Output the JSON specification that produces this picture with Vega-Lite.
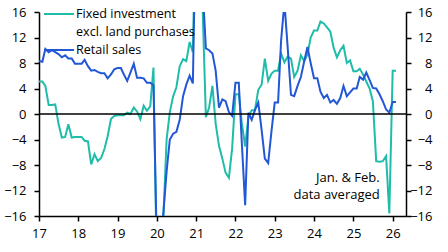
{
  "$schema": "https://vega.github.io/schema/vega-lite/v6.json",
  "width": 367,
  "height": 204,
  "autosize": {"type": "none"},
  "padding": {"left": 39, "top": 12, "right": 42, "bottom": 36},
  "background": "white",
  "config": {
    "font": "Open Sans",
    "view": {"stroke": null},
    "style": {"guide-label": {"lineHeight": 17.5}},
    "axis": {
      "labelFont": "Open Sans",
      "labelFontSize": 13,
      "labelColor": "black",
      "domainColor": "black",
      "domainWidth": 1.5,
      "tickColor": "black",
      "tickWidth": 1.5,
      "tickSize": 5,
      "grid": false,
      "title": null
    }
  },
  "layer": [
    {
      "data": {
        "values": [
          {"date": "2017-01", "Fixed investment": 5.1, "Retail sales": 8.3},
          {"date": "2017-02", "Fixed investment": 5.1, "Retail sales": 8.2},
          {"date": "2017-03", "Fixed investment": 4.4, "Retail sales": 10.2},
          {"date": "2017-04", "Fixed investment": 1.4, "Retail sales": 9.7},
          {"date": "2017-05", "Fixed investment": 1.4, "Retail sales": 10.0},
          {"date": "2017-06", "Fixed investment": 1.5, "Retail sales": 9.7},
          {"date": "2017-07", "Fixed investment": -1.5, "Retail sales": 9.4},
          {"date": "2017-08", "Fixed investment": -3.7, "Retail sales": 8.9},
          {"date": "2017-09", "Fixed investment": -3.6, "Retail sales": 9.2},
          {"date": "2017-10", "Fixed investment": -1.6, "Retail sales": 8.7},
          {"date": "2017-11", "Fixed investment": -3.7, "Retail sales": 8.7},
          {"date": "2017-12", "Fixed investment": -3.6, "Retail sales": 7.9},
          {"date": "2018-01", "Fixed investment": -3.6, "Retail sales": 7.9},
          {"date": "2018-02", "Fixed investment": -3.6, "Retail sales": 7.9},
          {"date": "2018-03", "Fixed investment": -4.2, "Retail sales": 8.5},
          {"date": "2018-04", "Fixed investment": -4.3, "Retail sales": 7.5},
          {"date": "2018-05", "Fixed investment": -7.9, "Retail sales": 6.8},
          {"date": "2018-06", "Fixed investment": -6.3, "Retail sales": 6.9},
          {"date": "2018-07", "Fixed investment": -7.4, "Retail sales": 6.6},
          {"date": "2018-08", "Fixed investment": -6.9, "Retail sales": 6.4},
          {"date": "2018-09", "Fixed investment": -5.5, "Retail sales": 6.4},
          {"date": "2018-10", "Fixed investment": -3.5, "Retail sales": 5.6},
          {"date": "2018-11", "Fixed investment": -0.8, "Retail sales": 6.2},
          {"date": "2018-12", "Fixed investment": -0.3, "Retail sales": 7.0},
          {"date": "2019-01", "Fixed investment": -0.2, "Retail sales": 7.2},
          {"date": "2019-02", "Fixed investment": -0.2, "Retail sales": 7.2},
          {"date": "2019-03", "Fixed investment": -0.2, "Retail sales": 6.2},
          {"date": "2019-04", "Fixed investment": 0.2, "Retail sales": 5.2},
          {"date": "2019-05", "Fixed investment": 0.0, "Retail sales": 6.5},
          {"date": "2019-06", "Fixed investment": 1.0, "Retail sales": 7.9},
          {"date": "2019-07", "Fixed investment": 0.4, "Retail sales": 5.7},
          {"date": "2019-08", "Fixed investment": -0.8, "Retail sales": 5.7},
          {"date": "2019-09", "Fixed investment": 1.3, "Retail sales": 5.6},
          {"date": "2019-10", "Fixed investment": 0.5, "Retail sales": 4.9},
          {"date": "2019-11", "Fixed investment": 1.2, "Retail sales": 4.9},
          {"date": "2019-12", "Fixed investment": 7.3, "Retail sales": 4.5},
          {"date": "2020-01", "Fixed investment": -24.5, "Retail sales": -20.5},
          {"date": "2020-02", "Fixed investment": -24.5, "Retail sales": -20.5},
          {"date": "2020-03", "Fixed investment": -16.5, "Retail sales": -15.8},
          {"date": "2020-04", "Fixed investment": -4.0, "Retail sales": -9.0},
          {"date": "2020-05", "Fixed investment": 0.3, "Retail sales": -4.0},
          {"date": "2020-06", "Fixed investment": 2.8, "Retail sales": -3.1},
          {"date": "2020-07", "Fixed investment": 4.2, "Retail sales": -2.8},
          {"date": "2020-08", "Fixed investment": 7.5, "Retail sales": -0.9},
          {"date": "2020-09", "Fixed investment": 8.6, "Retail sales": 2.8},
          {"date": "2020-10", "Fixed investment": 8.3, "Retail sales": 4.6},
          {"date": "2020-11", "Fixed investment": 11.3, "Retail sales": 6.0},
          {"date": "2020-12", "Fixed investment": 9.7, "Retail sales": 4.8},
          {"date": "2021-01", "Fixed investment": 35.0, "Retail sales": 33.8},
          {"date": "2021-02", "Fixed investment": 35.0, "Retail sales": 33.8},
          {"date": "2021-03", "Fixed investment": 17.0, "Retail sales": 20.0},
          {"date": "2021-04", "Fixed investment": -0.5, "Retail sales": 10.3},
          {"date": "2021-05", "Fixed investment": 1.0, "Retail sales": 10.0},
          {"date": "2021-06", "Fixed investment": 4.4, "Retail sales": 9.5},
          {"date": "2021-07", "Fixed investment": -1.5, "Retail sales": 6.8},
          {"date": "2021-08", "Fixed investment": -5.0, "Retail sales": 1.0},
          {"date": "2021-09", "Fixed investment": -7.0, "Retail sales": 2.3},
          {"date": "2021-10", "Fixed investment": -9.2, "Retail sales": 2.0},
          {"date": "2021-11", "Fixed investment": -10.0, "Retail sales": 0.3},
          {"date": "2021-12", "Fixed investment": -5.4, "Retail sales": -0.3},
          {"date": "2022-01", "Fixed investment": 3.1, "Retail sales": 4.9},
          {"date": "2022-02", "Fixed investment": 3.1, "Retail sales": 4.9},
          {"date": "2022-03", "Fixed investment": -1.4, "Retail sales": -4.5},
          {"date": "2022-04", "Fixed investment": -5.1, "Retail sales": -14.3},
          {"date": "2022-05", "Fixed investment": -0.5, "Retail sales": 0.2},
          {"date": "2022-06", "Fixed investment": 0.6, "Retail sales": -0.9},
          {"date": "2022-07", "Fixed investment": 0.6, "Retail sales": 0.6},
          {"date": "2022-08", "Fixed investment": 3.8, "Retail sales": 1.8},
          {"date": "2022-09", "Fixed investment": 4.6, "Retail sales": -2.5},
          {"date": "2022-10", "Fixed investment": 8.7, "Retail sales": -7.0},
          {"date": "2022-11", "Fixed investment": 5.2, "Retail sales": -7.7},
          {"date": "2022-12", "Fixed investment": 6.3, "Retail sales": -2.8},
          {"date": "2023-01", "Fixed investment": 6.8, "Retail sales": 1.8},
          {"date": "2023-02", "Fixed investment": 6.8, "Retail sales": 1.8},
          {"date": "2023-03", "Fixed investment": 9.5, "Retail sales": 11.5},
          {"date": "2023-04", "Fixed investment": 8.1, "Retail sales": 17.5},
          {"date": "2023-05", "Fixed investment": 9.0, "Retail sales": 10.5},
          {"date": "2023-06", "Fixed investment": 8.7, "Retail sales": 3.0},
          {"date": "2023-07", "Fixed investment": 5.8, "Retail sales": 2.8},
          {"date": "2023-08", "Fixed investment": 6.8, "Retail sales": 4.4},
          {"date": "2023-09", "Fixed investment": 9.2, "Retail sales": 5.8},
          {"date": "2023-10", "Fixed investment": 8.3, "Retail sales": 8.2},
          {"date": "2023-11", "Fixed investment": 9.3, "Retail sales": 10.5},
          {"date": "2023-12", "Fixed investment": 12.0, "Retail sales": 8.0},
          {"date": "2024-01", "Fixed investment": 13.1, "Retail sales": 5.6},
          {"date": "2024-02", "Fixed investment": 13.1, "Retail sales": 5.6},
          {"date": "2024-03", "Fixed investment": 14.5, "Retail sales": 3.5},
          {"date": "2024-04", "Fixed investment": 14.2, "Retail sales": 2.5},
          {"date": "2024-05", "Fixed investment": 13.6, "Retail sales": 3.0},
          {"date": "2024-06", "Fixed investment": 12.9, "Retail sales": 1.8},
          {"date": "2024-07", "Fixed investment": 10.4, "Retail sales": 2.2},
          {"date": "2024-08", "Fixed investment": 8.9, "Retail sales": 1.6},
          {"date": "2024-09", "Fixed investment": 10.0, "Retail sales": 2.5},
          {"date": "2024-10", "Fixed investment": 10.7, "Retail sales": 4.4},
          {"date": "2024-11", "Fixed investment": 8.0, "Retail sales": 2.8},
          {"date": "2024-12", "Fixed investment": 8.4, "Retail sales": 3.4},
          {"date": "2025-01", "Fixed investment": 6.7, "Retail sales": 4.0},
          {"date": "2025-02", "Fixed investment": 6.7, "Retail sales": 4.0},
          {"date": "2025-03", "Fixed investment": 7.1, "Retail sales": 5.8},
          {"date": "2025-04", "Fixed investment": 6.2, "Retail sales": 5.4},
          {"date": "2025-05", "Fixed investment": 5.1, "Retail sales": 6.5},
          {"date": "2025-06", "Fixed investment": 4.0, "Retail sales": 5.3},
          {"date": "2025-07", "Fixed investment": 2.0, "Retail sales": 4.1},
          {"date": "2025-08", "Fixed investment": -7.4, "Retail sales": 4.0},
          {"date": "2025-09", "Fixed investment": -7.5, "Retail sales": 3.1},
          {"date": "2025-10", "Fixed investment": -7.4, "Retail sales": 2.0},
          {"date": "2025-11", "Fixed investment": -6.6, "Retail sales": 0.7},
          {"date": "2025-12", "Fixed investment": -15.6, "Retail sales": 0.2},
          {"date": "2026-01", "Fixed investment": 6.8, "Retail sales": 1.9},
          {"date": "2026-02", "Fixed investment": 6.8, "Retail sales": 1.9}
        ],
        "format": {"parse": {"date": "utc:'%Y-%m'"}}
      },
      "transform": [
        {"fold": ["Fixed investment", "Retail sales"], "as": ["series", "value"]}
      ],
      "mark": {"type": "line", "clip": true, "strokeWidth": 2},
      "encoding": {
        "x": {
          "field": "date",
          "type": "temporal",
          "scale": {
            "type": "utc",
            "domain": [
              {"year": 2017, "month": 1, "date": 1, "utc": true},
              {"year": 2026, "month": 5, "date": 5, "utc": true}
            ]
          },
          "axis": {
            "values": [
              {"year": 2017, "utc": true}, {"year": 2018, "utc": true},
              {"year": 2019, "utc": true}, {"year": 2020, "utc": true},
              {"year": 2021, "utc": true}, {"year": 2022, "utc": true},
              {"year": 2023, "utc": true}, {"year": 2024, "utc": true},
              {"year": 2025, "utc": true}, {"year": 2026, "utc": true}
            ],
            "labelExpr": "utcFormat(datum.value, '%y')",
            "labelPadding": 6,
            "labelFlush": false
          }
        },
        "y": {
          "field": "value",
          "type": "quantitative",
          "scale": {"domain": [-16, 16], "nice": false, "zero": false},
          "axis": {
            "orient": "left",
            "values": [-16, -12, -8, -4, 0, 4, 8, 12, 16],
            "labelPadding": 8
          }
        },
        "color": {
          "field": "series",
          "type": "nominal",
          "scale": {
            "domain": ["Fixed investment", "Retail sales"],
            "range": ["#1fbca9", "#2257d6"]
          },
          "legend": {
            "orient": "none",
            "legendX": 4,
            "legendY": -14,
            "title": null,
            "padding": 0,
            "symbolType": "stroke",
            "symbolSize": 900,
            "symbolStrokeWidth": 2,
            "labelFont": "Open Sans",
            "labelFontSize": 12.6,
            "labelColor": "black",
            "labelOffset": 1,
            "labelLimit": 300,
            "gridAlign": "none",
            "rowPadding": -5,
            "labelExpr": "datum.label == 'Fixed investment' ? ['Fixed investment', 'excl. land purchases'] : datum.label"
          }
        }
      }
    },
    {
      "data": {"values": [{}]},
      "mark": {"type": "rule", "color": "black", "strokeWidth": 1.5},
      "encoding": {
        "y": {
          "datum": 0,
          "type": "quantitative",
          "axis": {
            "orient": "right",
            "values": [-16, -12, -8, -4, 0, 4, 8, 12, 16],
            "labelAlign": "right",
            "labelPadding": 21
          }
        }
      }
    },
    {
      "data": {"values": [{}]},
      "mark": {
        "type": "text",
        "text": ["Jan. & Feb.", "data averaged"],
        "align": "right",
        "baseline": "alphabetic",
        "font": "Open Sans",
        "fontSize": 13,
        "lineHeight": 17.5,
        "color": "black"
      },
      "encoding": {
        "x": {"datum": {"year": 2025, "month": 9, "date": 3, "utc": true}, "type": "temporal"},
        "y": {"datum": -10.6, "type": "quantitative", "axis": null}
      }
    }
  ],
  "resolve": {"axis": {"y": "independent"}}
}
